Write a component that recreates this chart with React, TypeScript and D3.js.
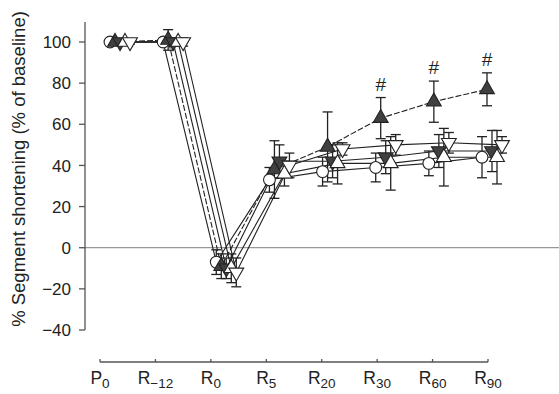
import React, { useEffect, useRef } from "react";
import * as d3 from "d3";

const categories = ["P0", "R-12", "R0", "R5", "R20", "R30", "R60", "R90"];
const labelBase = ["P", "R", "R", "R", "R", "R", "R", "R"];
const labelSub = ["0", "\u221212", "0", "5", "20", "30", "60", "90"];
const yTicks = [-40, -20, 0, 20, 40, 60, 80, 100];

// series: open circle, filled up, filled down, open up, open down
const circleMean = [100, 100, -7, 33, 37, 39, 41, 44];
const circleSd = [1, 1, 6, 6, 7, 7, 6, 10];
const filledUpMean = [100, 101, -9, 38, 49, 63, 71, 77];
const filledUpSd = [1, 5, 6, 14, 17, 10, 10, 8];
const filledDownMean = [100, 100, -10, 42, 42, 44, 47, 47];
const filledDownSd = [1, 2, 5, 8, 8, 8, 8, 10];
const openUpMean = [100, 100, -10, 36, 41, 41, 44, 44];
const openUpSd = [1, 2, 7, 6, 10, 13, 14, 13];
const openDownMean = [100, 100, -12, 40, 48, 50, 51, 50];
const openDownSd = [1, 2, 7, 6, 3, 5, 5, 4];
const significant = ["R30", "R60", "R90"];

const series = [
  { mean: circleMean, sd: circleSd, shape: "circle", fill: "#fff", dashed: false },
  { mean: filledUpMean, sd: filledUpSd, shape: "up", fill: "#404040", dashed: true },
  { mean: filledDownMean, sd: filledDownSd, shape: "down", fill: "#404040", dashed: false },
  { mean: openUpMean, sd: openUpSd, shape: "up", fill: "#fff", dashed: false },
  { mean: openDownMean, sd: openDownSd, shape: "down", fill: "#fff", dashed: false },
];

const width = 559;
const height = 394;

const App = () => {
  const svgRef = useRef(null);

  useEffect(() => {
    const svg = d3.select(svgRef.current);
    svg.selectAll("*").remove();

    const y = d3.scaleLinear().domain([-40, 100]).range([330, 42]);
    const xAxis = d3.scalePoint().domain(categories).range([100, 488]);
    const xData = d3.scalePoint().domain(categories).range([110, 482]);
    const step = 5;
    const font = "Arial, 'Liberation Sans', sans-serif";

    // zero line
    svg
      .append("line")
      .attr("x1", 85)
      .attr("x2", width)
      .attr("y1", y(0))
      .attr("y2", y(0))
      .attr("stroke", "#999")
      .attr("stroke-width", 1.2);

    // y axis
    const gy = svg.append("g").attr("transform", "translate(85,0)");
    gy.append("line").attr("y1", 22).attr("y2", y(-40)).attr("stroke", "#555").attr("stroke-width", 1.3);
    yTicks.forEach((t) => {
      gy.append("line").attr("x1", -6).attr("x2", 0).attr("y1", y(t)).attr("y2", y(t)).attr("stroke", "#555").attr("stroke-width", 1.3);
      gy.append("text")
        .attr("x", -14)
        .attr("y", y(t))
        .attr("dy", "0.36em")
        .attr("text-anchor", "end")
        .attr("font-family", font)
        .attr("font-size", 17)
        .attr("fill", "#222")
        .text(t < 0 ? `\u2212${-t}` : `${t}`);
    });

    svg
      .append("text")
      .attr("transform", `translate(25,${(8 + 330) / 2}) rotate(-90)`)
      .attr("text-anchor", "middle")
      .attr("font-family", font)
      .attr("font-size", 18.5)
      .attr("fill", "#222")
      .text("% Segment shortening (% of baseline)");

    // x axis
    const gx = svg.append("g").attr("transform", "translate(0,362)");
    gx.append("line").attr("x1", xAxis(categories[0])).attr("x2", xAxis(categories[categories.length - 1])).attr("stroke", "#555").attr("stroke-width", 1.3);
    categories.forEach((c, i) => {
      gx.append("line").attr("x1", xAxis(c)).attr("x2", xAxis(c)).attr("y1", -3).attr("y2", 0).attr("stroke", "#555").attr("stroke-width", 1.3);
      const t = gx
        .append("text")
        .attr("x", xAxis(c))
        .attr("y", 22)
        .attr("text-anchor", "middle")
        .attr("font-family", font)
        .attr("font-size", 17.5)
        .attr("fill", "#222");
      t.append("tspan").text(labelBase[i]);
      t.append("tspan").attr("font-size", 13.5).attr("dy", 4).text(labelSub[i]);
    });

    const plot = svg.append("g");
    const px = (k, c) => xData(c) + k * step;

    // lines
    series.forEach((s, k) => {
      const line = d3
        .line()
        .x((d, i) => px(k, categories[i]))
        .y((d) => y(d));
      plot
        .append("path")
        .attr("d", line(s.mean))
        .attr("fill", "none")
        .attr("stroke", "#222")
        .attr("stroke-width", 1.1)
        .attr("stroke-dasharray", s.dashed ? "6,2" : null);
    });

    // error bars
    series.forEach((s, k) => {
      s.mean.forEach((m, i) => {
        const cx = px(k, categories[i]);
        const top = y(m + s.sd[i]);
        const bot = y(m - s.sd[i]);
        plot.append("line").attr("x1", cx).attr("x2", cx).attr("y1", top).attr("y2", bot).attr("stroke", "#222").attr("stroke-width", 1.3);
        [top, bot].forEach((yy) =>
          plot.append("line").attr("x1", cx - 5).attr("x2", cx + 5).attr("y1", yy).attr("y2", yy).attr("stroke", "#222").attr("stroke-width", 1.3)
        );
      });
    });

    // markers
    series.forEach((s, k) => {
      const sym = d3.symbol().type(s.shape === "circle" ? d3.symbolCircle : d3.symbolTriangle).size(s.shape === "circle" ? 110 : 95);
      s.mean.forEach((m, i) => {
        plot
          .append("path")
          .attr("d", sym())
          .attr("transform", `translate(${px(k, categories[i])},${y(m)})${s.shape === "down" ? " rotate(180)" : ""}`)
          .attr("fill", s.fill)
          .attr("stroke", "#222")
          .attr("stroke-width", 1.1);
      });
    });

    // significance marks
    significant.forEach((c) => {
      const i = categories.indexOf(c);
      plot
        .append("text")
        .attr("x", px(1, c))
        .attr("y", y(filledUpMean[i] + filledUpSd[i]) - 7)
        .attr("text-anchor", "middle")
        .attr("font-family", font)
        .attr("font-size", 19)
        .attr("fill", "#222")
        .text("#");
    });
  }, []);

  return (
    <svg
      ref={svgRef}
      width={width}
      height={height}
      style={{ position: "absolute", left: 0, top: 0, background: "#fff" }}
    />
  );
};

export default App;
